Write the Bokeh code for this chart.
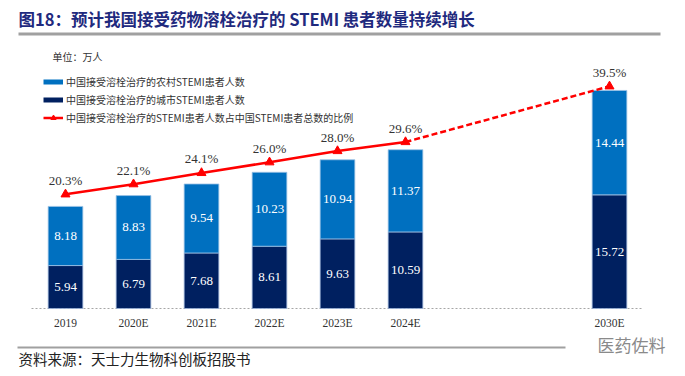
from bokeh.plotting import figure
from bokeh.models import (Range1d, Label, Legend, LegendItem,
                          ColumnDataSource, BoxAnnotation)
from bokeh.core.properties import value
from bokeh.embed import file_html
from bokeh.resources import INLINE

# ---------------- data ----------------
categories = ["2019", "2020E", "2021E", "2022E", "2023E", "2024E", "2030E"]
rural = [8.18, 8.83, 9.54, 10.23, 10.94, 11.37, 14.44]   # 农村 (top, light blue)
urban = [5.94, 6.79, 7.68, 8.61, 9.63, 10.59, 15.72]     # 城市 (bottom, navy)
share = [20.3, 22.1, 24.1, 26.0, 28.0, 29.6, 39.5]       # 比例 %
gap_factors = [" ", "  "]  # two empty slots between 2024E and 2030E

title_text = "图18：预计我国接受药物溶栓治疗的 STEMI 患者数量持续增长"
unit_text = "单位：万人"
legend_labels = ["中国接受溶栓治疗的农村STEMI患者人数",
                 "中国接受溶栓治疗的城市STEMI患者人数",
                 "中国接受溶栓治疗的STEMI患者人数占中国STEMI患者总数的比例"]
source_text = "资料来源：天士力生物科创板招股书"
watermark_text = "医药佐料"

# ---------------- styles / layout ----------------
SERIF = "'Liberation Serif', 'Noto Sans CJK SC', serif"
CJK = "'Noto Sans CJK SC', sans-serif"
RURAL_C = "#0070C0"
URBAN_C = "#002060"
RED = "#FF0000"
W, H = 685, 376
X0_PX, SLOT_PX = 65, 68          # first category centre, category pitch
BASE_PX = 308                     # baseline (canvas y)
VAL_PX, PCT_PX = 7.23, 5.625      # px per 万人, px per %

# slot index of each category along the axis (gap slots included)
factors = categories[:6] + gap_factors + categories[6:]
slot = [factors.index(c) for c in categories]

total = [u + r for u, r in zip(urban, rural)]
src = ColumnDataSource(dict(
    x=slot, cat=categories, urban=urban, rural=rural, total=total,
    urban_mid=[u / 2 for u in urban],
    rural_mid=[u + r / 2 for u, r in zip(urban, rural)],
    urban_lbl=[f"{v:.2f}" for v in urban],
    rural_lbl=[f"{v:.2f}" for v in rural],
))
lsrc = ColumnDataSource(dict(x=slot, y=share, lbl=[f"{v:.1f}%" for v in share]))

p = figure(width=W, height=H,
           x_range=Range1d(-X0_PX / SLOT_PX, (W - X0_PX) / SLOT_PX),
           y_range=Range1d(-(H - BASE_PX) / VAL_PX, BASE_PX / VAL_PX),
           output_backend="svg", toolbar_location=None,
           min_border=0, x_axis_location=None, y_axis_location=None)
p.extra_y_ranges = {"pct": Range1d(-(H - BASE_PX) / PCT_PX, BASE_PX / PCT_PX)}
p.outline_line_color = None
p.xgrid.visible = False
p.ygrid.visible = False
p.background_fill_color = "white"
p.border_fill_color = "white"

# dotted baseline across the category slots
p.segment(x0=[min(slot) - 0.5], x1=[max(slot) + 0.5], y0=[0], y1=[0],
          line_color="#A6A6A6", line_width=1, line_dash="2 2")

# bars
p.vbar(x="x", bottom=0, top="urban", width=0.51, fill_color=URBAN_C,
       line_color="#9DB5DA", line_width=0.8, source=src)
p.vbar(x="x", bottom="urban", top="total", width=0.51, fill_color=RURAL_C,
       line_color="#9DC3E6", line_width=0.8, source=src)

p.text(x="x", y="urban_mid", text="urban_lbl", source=src,
       text_align="center", text_baseline="middle", text_color="white",
       text_font=value(SERIF), text_font_size="13px")
p.text(x="x", y="rural_mid", text="rural_lbl", source=src,
       text_align="center", text_baseline="middle", text_color="white",
       text_font=value(SERIF), text_font_size="13px")

# category labels under the baseline
p.text(x="x", y=0, text="cat", source=src, y_offset=14,
       text_align="center", text_baseline="middle", text_color="#333333",
       text_font=value(SERIF), text_font_size="11.5px")

# share line
solid = p.line(x=slot[:6], y=share[:6], y_range_name="pct",
               line_color=RED, line_width=2.5)
p.line(x=slot[5:], y=share[5:], y_range_name="pct",
       line_color=RED, line_width=2.5, line_dash="6 3")
marks = p.scatter(x="x", y="y", source=lsrc, y_range_name="pct",
                  marker="triangle", size=9, fill_color=RED, line_color=RED)
p.text(x="x", y="y", text="lbl", source=lsrc, y_range_name="pct",
       y_offset=-14, text_align="center", text_baseline="middle",
       text_color="#333333", text_font=value(SERIF), text_font_size="13px")

# legend (thick line swatches for the bar series, drawn off-screen)
d_rural = p.line(x=[slot[0]], y=[float("nan")], line_color=RURAL_C, line_width=5)
d_urban = p.line(x=[slot[0]], y=[float("nan")], line_color=URBAN_C, line_width=5)
leg = Legend(items=[LegendItem(label=legend_labels[0], renderers=[d_rural]),
                    LegendItem(label=legend_labels[1], renderers=[d_urban]),
                    LegendItem(label=legend_labels[2], renderers=[solid, marks])],
             location=(43, 251), orientation="vertical",
             label_text_font=CJK, label_text_font_size="10px",
             label_text_color="#333333", label_height=13, glyph_height=13,
             glyph_width=20, spacing=3, padding=0, margin=0,
             label_standoff=3, border_line_color=None,
             background_fill_alpha=0)
p.add_layout(leg)

# surrounding texts (screen units: x from left, y up from the bottom)
p.add_layout(Label(x=18, y=H - 18, x_units="screen", y_units="screen",
                   text=title_text, text_font=CJK, text_font_style="bold",
                   text_font_size="16.5px", text_color="#1F2A7E",
                   text_baseline="middle"))
p.add_layout(BoxAnnotation(left=18, right=660, bottom=H - 35, top=H - 32,
                           left_units="screen", right_units="screen",
                           bottom_units="screen", top_units="screen",
                           fill_color="#A0A0A0", fill_alpha=1, line_color=None))
p.add_layout(Label(x=52, y=H - 56, x_units="screen", y_units="screen",
                   text=unit_text, text_font=CJK, text_font_size="10px",
                   text_color="#333333", text_baseline="middle"))
p.add_layout(BoxAnnotation(left=17, right=565, bottom=H - 348, top=H - 346,
                           left_units="screen", right_units="screen",
                           bottom_units="screen", top_units="screen",
                           fill_color="#A0A0A0", fill_alpha=1, line_color=None))
p.add_layout(Label(x=18, y=H - 358, x_units="screen", y_units="screen",
                   text=source_text, text_font=CJK, text_font_size="14.5px",
                   text_color="#222222", text_baseline="middle"))
p.add_layout(Label(x=597, y=H - 344, x_units="screen", y_units="screen",
                   text=watermark_text, text_font=CJK, text_font_size="17px",
                   text_color="#8A8A8A", text_baseline="middle"))

open("out.html", "w").write(file_html(p, INLINE))
